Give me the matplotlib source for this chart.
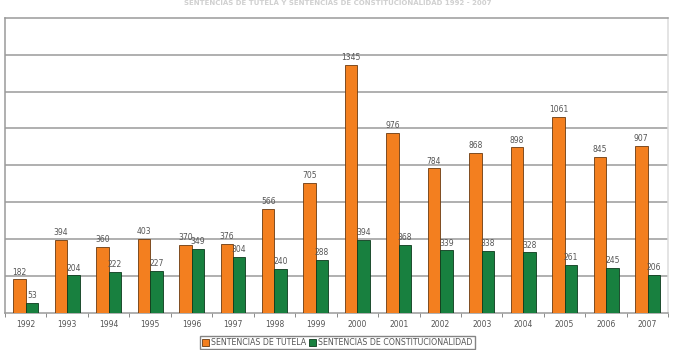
import matplotlib
matplotlib.use("Agg")
import matplotlib.pyplot as plt
import numpy as np

years = ["1992", "1993", "1994", "1995", "1996", "1997", "1998", "1999",
         "2000", "2001", "2002", "2003", "2004", "2005", "2006", "2007"]
tutela = [182, 394, 360, 403, 370, 376, 566, 705, 1345, 976, 784, 868, 898, 1061, 845, 907]
constitucionalidad = [53, 204, 222, 227, 349, 304, 240, 288, 394, 368, 339, 338, 328, 261, 245, 206]
series_labels = ["SENTENCIAS DE TUTELA", "SENTENCIAS DE CONSTITUCIONALIDAD"]
title = "SENTENCIAS DE TUTELA Y SENTENCIAS DE CONSTITUCIONALIDAD 1992 - 2007"

fig = plt.figure(figsize=(6.75, 3.5), dpi=100)
ax = fig.add_axes([0.0074, 0.106, 0.9826, 0.843])

x = np.arange(len(years))
w = 0.3
b1 = ax.bar(x - w / 2, tutela, w, color="#F37F1F", edgecolor="#6a3a10", linewidth=0.6,
            label=series_labels[0], zorder=3)
b2 = ax.bar(x + w / 2, constitucionalidad, w, color="#18803F", edgecolor="#0c3a1c", linewidth=0.6,
            label=series_labels[1], zorder=3)
ax.bar_label(b1, padding=2, fontsize=5.5, color="#555555")
ax.bar_label(b2, padding=2, fontsize=5.5, color="#555555")

ax.set_xlim(-0.5, len(years) - 0.5)
ax.set_ylim(0, 1600)
ax.set_yticks(np.arange(200, 1600, 200))
ax.yaxis.grid(True, color="#9a9a9a", linewidth=1.1, zorder=0)
ax.tick_params(axis="y", left=False, labelleft=False)
ax.set_xticks(x)
ax.set_xticklabels(years, fontsize=5.5, color="#555555")
ax.tick_params(axis="x", length=0, pad=5)
ax.set_xticks(np.arange(-0.5, len(years), 1), minor=True)
ax.tick_params(axis="x", which="minor", length=3, color="#777777", direction="out")
for s in ["left", "top", "right", "bottom"]:
    ax.spines[s].set_color("#9a9a9a")
    ax.spines[s].set_linewidth(1.1)
ax.spines["right"].set_color("#dddddd")

leg = fig.legend(loc="lower center", bbox_to_anchor=(0.5, 0.0), ncol=2, fontsize=5.7,
                 frameon=True, fancybox=False, edgecolor="#666666", handlelength=0.8,
                 handleheight=0.8, handletextpad=0.3, columnspacing=0.4, borderpad=0.25,
                 borderaxespad=0.1)
for t in leg.get_texts():
    t.set_color("#555555")

fig.text(0.5, 0.999, title, ha="center", va="top", fontsize=5.0, color="#d0d0d0",
         fontweight="bold")

fig.savefig("out.png", dpi=100)
